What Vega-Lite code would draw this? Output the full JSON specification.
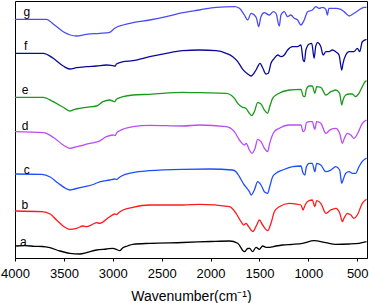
{
"$schema":"https://vega.github.io/schema/vega-lite/v6.json",
"width":352,"height":257,
"autosize":{"type":"none"},
"padding":{"left":15,"top":1,"right":2,"bottom":45},
"config":{"view":{"stroke":"#000","strokeWidth":1},"font":"Liberation Sans"},
"layer":[
{"data":{"values":[
{"s":"a","wn":4000,"v":12},{"s":"a","wn":3900,"v":12.3},{"s":"a","wn":3800,"v":11.7},{"s":"a","wn":3720,"v":11.5},{"s":"a","wn":3643,"v":10.3},{"s":"a","wn":3541,"v":7},{"s":"a","wn":3440,"v":4.7},{"s":"a","wn":3337,"v":4},{"s":"a","wn":3269,"v":5.3},{"s":"a","wn":3167,"v":8},{"s":"a","wn":3065,"v":9},{"s":"a","wn":2998,"v":9.7},{"s":"a","wn":2960,"v":8.5},{"s":"a","wn":2929,"v":7.3},{"s":"a","wn":2900,"v":10},{"s":"a","wn":2848,"v":12},{"s":"a","wn":2794,"v":13.7},{"s":"a","wn":2623,"v":14.7},{"s":"a","wn":2287,"v":15.5},{"s":"a","wn":2000,"v":16.5},{"s":"a","wn":1807,"v":17},{"s":"a","wn":1722,"v":14.7},{"s":"a","wn":1654,"v":6.3},{"s":"a","wn":1620,"v":9.5},{"s":"a","wn":1600,"v":9.7},{"s":"a","wn":1570,"v":6.3},{"s":"a","wn":1535,"v":10.7},{"s":"a","wn":1501,"v":8.7},{"s":"a","wn":1467,"v":12},{"s":"a","wn":1433,"v":10.7},{"s":"a","wn":1399,"v":10.7},{"s":"a","wn":1331,"v":12},{"s":"a","wn":1263,"v":13},{"s":"a","wn":1161,"v":13.7},{"s":"a","wn":1059,"v":14.7},{"s":"a","wn":941,"v":17.3},{"s":"a","wn":821,"v":15.3},{"s":"a","wn":719,"v":13.7},{"s":"a","wn":583,"v":14},{"s":"a","wn":482,"v":14.7},{"s":"a","wn":405,"v":16.3},
{"s":"b","wn":4000,"v":47},{"s":"b","wn":3725,"v":46.3},{"s":"b","wn":3640,"v":44},{"s":"b","wn":3575,"v":38},{"s":"b","wn":3490,"v":30.7},{"s":"b","wn":3440,"v":28.7},{"s":"b","wn":3371,"v":29.7},{"s":"b","wn":3303,"v":32},{"s":"b","wn":3270,"v":31.3},{"s":"b","wn":3200,"v":34},{"s":"b","wn":3167,"v":35.3},{"s":"b","wn":3133,"v":34.7},{"s":"b","wn":3031,"v":41.3},{"s":"b","wn":2980,"v":44},{"s":"b","wn":2960,"v":43.5},{"s":"b","wn":2946,"v":44.7},{"s":"b","wn":2895,"v":48},{"s":"b","wn":2794,"v":50.7},{"s":"b","wn":2623,"v":53},{"s":"b","wn":2283,"v":53},{"s":"b","wn":2113,"v":53.7},{"s":"b","wn":1807,"v":51.3},{"s":"b","wn":1739,"v":44.7},{"s":"b","wn":1688,"v":36.3},{"s":"b","wn":1660,"v":33},{"s":"b","wn":1637,"v":34.7},{"s":"b","wn":1610,"v":31.3},{"s":"b","wn":1569,"v":26.3},{"s":"b","wn":1528,"v":33},{"s":"b","wn":1501,"v":38},{"s":"b","wn":1467,"v":33},{"s":"b","wn":1416,"v":27.3},{"s":"b","wn":1382,"v":34.7},{"s":"b","wn":1348,"v":46.3},{"s":"b","wn":1297,"v":51.3},{"s":"b","wn":1195,"v":54.7},{"s":"b","wn":1076,"v":53},{"s":"b","wn":1053,"v":48},{"s":"b","wn":1040,"v":51.3},{"s":"b","wn":1000,"v":57},{"s":"b","wn":960,"v":58},{"s":"b","wn":933,"v":51.3},{"s":"b","wn":915,"v":57.3},{"s":"b","wn":872,"v":54.7},{"s":"b","wn":821,"v":44.7},{"s":"b","wn":770,"v":48},{"s":"b","wn":719,"v":49.7},{"s":"b","wn":678,"v":44.7},{"s":"b","wn":652,"v":36.3},{"s":"b","wn":635,"v":39.7},{"s":"b","wn":600,"v":44.7},{"s":"b","wn":565,"v":43},{"s":"b","wn":533,"v":39.7},{"s":"b","wn":499,"v":43},{"s":"b","wn":448,"v":54.7},{"s":"b","wn":405,"v":58.7},
{"s":"c","wn":4000,"v":84},{"s":"c","wn":3725,"v":83.7},{"s":"c","wn":3640,"v":81},{"s":"c","wn":3560,"v":75},{"s":"c","wn":3480,"v":69.5},{"s":"c","wn":3440,"v":68},{"s":"c","wn":3390,"v":69},{"s":"c","wn":3286,"v":71.3},{"s":"c","wn":3200,"v":73.5},{"s":"c","wn":3165,"v":75},{"s":"c","wn":3030,"v":78},{"s":"c","wn":2980,"v":79},{"s":"c","wn":2960,"v":78.5},{"s":"c","wn":2940,"v":80},{"s":"c","wn":2910,"v":82},{"s":"c","wn":2795,"v":85.3},{"s":"c","wn":2625,"v":87.3},{"s":"c","wn":2285,"v":88.7},{"s":"c","wn":2000,"v":89},{"s":"c","wn":1777,"v":88},{"s":"c","wn":1740,"v":86.3},{"s":"c","wn":1705,"v":81.3},{"s":"c","wn":1655,"v":73},{"s":"c","wn":1640,"v":71.3},{"s":"c","wn":1603,"v":66.3},{"s":"c","wn":1585,"v":63},{"s":"c","wn":1552,"v":68},{"s":"c","wn":1518,"v":76.3},{"s":"c","wn":1484,"v":73},{"s":"c","wn":1450,"v":66.3},{"s":"c","wn":1416,"v":64.7},{"s":"c","wn":1395,"v":71.3},{"s":"c","wn":1365,"v":81.3},{"s":"c","wn":1331,"v":84.7},{"s":"c","wn":1263,"v":88},{"s":"c","wn":1161,"v":91.3},{"s":"c","wn":1076,"v":92},{"s":"c","wn":1053,"v":84.7},{"s":"c","wn":1035,"v":83},{"s":"c","wn":1020,"v":91.3},{"s":"c","wn":991,"v":94.7},{"s":"c","wn":960,"v":94.7},{"s":"c","wn":933,"v":86.3},{"s":"c","wn":915,"v":94.7},{"s":"c","wn":872,"v":93},{"s":"c","wn":821,"v":86.3},{"s":"c","wn":770,"v":88},{"s":"c","wn":719,"v":91.3},{"s":"c","wn":680,"v":88},{"s":"c","wn":658,"v":74.7},{"s":"c","wn":645,"v":78},{"s":"c","wn":617,"v":84.7},{"s":"c","wn":583,"v":86.3},{"s":"c","wn":550,"v":84.7},{"s":"c","wn":516,"v":84.7},{"s":"c","wn":482,"v":91.3},{"s":"c","wn":450,"v":96.3},{"s":"c","wn":405,"v":100},
{"s":"d","wn":4000,"v":126.3},{"s":"d","wn":3711,"v":125.3},{"s":"d","wn":3609,"v":120.7},{"s":"d","wn":3507,"v":113},{"s":"d","wn":3440,"v":109.7},{"s":"d","wn":3400,"v":110.5},{"s":"d","wn":3337,"v":112},{"s":"d","wn":3235,"v":114.7},{"s":"d","wn":3150,"v":116.3},{"s":"d","wn":3065,"v":121.3},{"s":"d","wn":2998,"v":123},{"s":"d","wn":2975,"v":122.5},{"s":"d","wn":2963,"v":124.7},{"s":"d","wn":2929,"v":127.3},{"s":"d","wn":2794,"v":131.3},{"s":"d","wn":2623,"v":132.7},{"s":"d","wn":2283,"v":132},{"s":"d","wn":2113,"v":133},{"s":"d","wn":1841,"v":131.3},{"s":"d","wn":1756,"v":126.3},{"s":"d","wn":1705,"v":118},{"s":"d","wn":1654,"v":113},{"s":"d","wn":1635,"v":114.7},{"s":"d","wn":1603,"v":108},{"s":"d","wn":1576,"v":104.7},{"s":"d","wn":1545,"v":109.7},{"s":"d","wn":1518,"v":118.7},{"s":"d","wn":1484,"v":116.3},{"s":"d","wn":1450,"v":109.7},{"s":"d","wn":1416,"v":106.3},{"s":"d","wn":1395,"v":114.7},{"s":"d","wn":1348,"v":126.3},{"s":"d","wn":1297,"v":129.7},{"s":"d","wn":1195,"v":133},{"s":"d","wn":1076,"v":133},{"s":"d","wn":1053,"v":126.3},{"s":"d","wn":1035,"v":128},{"s":"d","wn":1020,"v":135.3},{"s":"d","wn":991,"v":136.3},{"s":"d","wn":960,"v":136.3},{"s":"d","wn":933,"v":128.7},{"s":"d","wn":915,"v":136.3},{"s":"d","wn":872,"v":134.7},{"s":"d","wn":821,"v":124.7},{"s":"d","wn":770,"v":128.7},{"s":"d","wn":719,"v":129.7},{"s":"d","wn":680,"v":124.7},{"s":"d","wn":652,"v":114.7},{"s":"d","wn":635,"v":118.7},{"s":"d","wn":600,"v":124.7},{"s":"d","wn":565,"v":123},{"s":"d","wn":533,"v":119.7},{"s":"d","wn":499,"v":124},{"s":"d","wn":448,"v":134.7},{"s":"d","wn":405,"v":138},
{"s":"e","wn":4000,"v":160.7},{"s":"e","wn":3711,"v":160.7},{"s":"e","wn":3609,"v":156.3},{"s":"e","wn":3507,"v":150.7},{"s":"e","wn":3440,"v":147},{"s":"e","wn":3390,"v":148.7},{"s":"e","wn":3337,"v":149.7},{"s":"e","wn":3270,"v":150.7},{"s":"e","wn":3167,"v":152},{"s":"e","wn":3100,"v":156.3},{"s":"e","wn":3031,"v":158},{"s":"e","wn":2980,"v":156.3},{"s":"e","wn":2963,"v":158.7},{"s":"e","wn":2895,"v":161.3},{"s":"e","wn":2794,"v":163},{"s":"e","wn":2623,"v":163.7},{"s":"e","wn":2283,"v":165.7},{"s":"e","wn":2113,"v":165.3},{"s":"e","wn":1841,"v":164.7},{"s":"e","wn":1756,"v":159.7},{"s":"e","wn":1722,"v":154.7},{"s":"e","wn":1671,"v":150.7},{"s":"e","wn":1640,"v":149.7},{"s":"e","wn":1603,"v":144.7},{"s":"e","wn":1580,"v":142.3},{"s":"e","wn":1552,"v":146.3},{"s":"e","wn":1518,"v":155.3},{"s":"e","wn":1484,"v":154},{"s":"e","wn":1450,"v":148},{"s":"e","wn":1416,"v":144.7},{"s":"e","wn":1395,"v":151.3},{"s":"e","wn":1365,"v":159.7},{"s":"e","wn":1314,"v":164},{"s":"e","wn":1195,"v":168},{"s":"e","wn":1076,"v":168.7},{"s":"e","wn":1053,"v":162},{"s":"e","wn":1035,"v":161.3},{"s":"e","wn":1020,"v":168.7},{"s":"e","wn":991,"v":172},{"s":"e","wn":960,"v":172},{"s":"e","wn":933,"v":164.7},{"s":"e","wn":915,"v":171.3},{"s":"e","wn":872,"v":170.7},{"s":"e","wn":821,"v":163},{"s":"e","wn":770,"v":166.3},{"s":"e","wn":719,"v":168},{"s":"e","wn":680,"v":164.7},{"s":"e","wn":658,"v":153},{"s":"e","wn":645,"v":158},{"s":"e","wn":617,"v":163},{"s":"e","wn":583,"v":164},{"s":"e","wn":550,"v":164},{"s":"e","wn":516,"v":161.3},{"s":"e","wn":482,"v":164.7},{"s":"e","wn":448,"v":171.3},{"s":"e","wn":420,"v":176.3},{"s":"e","wn":405,"v":177},
{"s":"f","wn":4000,"v":204.7},{"s":"f","wn":3711,"v":204.7},{"s":"f","wn":3609,"v":199.7},{"s":"f","wn":3507,"v":192},{"s":"f","wn":3440,"v":189},{"s":"f","wn":3371,"v":190.3},{"s":"f","wn":3270,"v":191.3},{"s":"f","wn":3167,"v":192},{"s":"f","wn":3065,"v":193},{"s":"f","wn":2998,"v":192.3},{"s":"f","wn":2975,"v":192},{"s":"f","wn":2963,"v":194},{"s":"f","wn":2895,"v":196.3},{"s":"f","wn":2794,"v":197.3},{"s":"f","wn":2623,"v":201.3},{"s":"f","wn":2453,"v":204.7},{"s":"f","wn":2283,"v":207.3},{"s":"f","wn":2113,"v":208},{"s":"f","wn":1943,"v":207.3},{"s":"f","wn":1841,"v":204.7},{"s":"f","wn":1773,"v":201.3},{"s":"f","wn":1722,"v":196.3},{"s":"f","wn":1671,"v":188.7},{"s":"f","wn":1620,"v":184},{"s":"f","wn":1586,"v":182},{"s":"f","wn":1535,"v":188},{"s":"f","wn":1494,"v":194.7},{"s":"f","wn":1465,"v":189.7},{"s":"f","wn":1433,"v":184},{"s":"f","wn":1410,"v":184.7},{"s":"f","wn":1382,"v":194.7},{"s":"f","wn":1348,"v":199.7},{"s":"f","wn":1314,"v":203},{"s":"f","wn":1280,"v":201.3},{"s":"f","wn":1246,"v":203},{"s":"f","wn":1212,"v":208},{"s":"f","wn":1161,"v":211.3},{"s":"f","wn":1110,"v":211.3},{"s":"f","wn":1076,"v":213},{"s":"f","wn":1053,"v":198},{"s":"f","wn":1040,"v":196.3},{"s":"f","wn":1025,"v":208},{"s":"f","wn":991,"v":214},{"s":"f","wn":965,"v":214.7},{"s":"f","wn":941,"v":199.7},{"s":"f","wn":925,"v":211.3},{"s":"f","wn":906,"v":215.3},{"s":"f","wn":872,"v":211.3},{"s":"f","wn":849,"v":203},{"s":"f","wn":820,"v":206.3},{"s":"f","wn":788,"v":206.3},{"s":"f","wn":754,"v":208},{"s":"f","wn":720,"v":206.3},{"s":"f","wn":686,"v":203},{"s":"f","wn":658,"v":188},{"s":"f","wn":645,"v":194.7},{"s":"f","wn":617,"v":203},{"s":"f","wn":583,"v":206.3},{"s":"f","wn":533,"v":206.3},{"s":"f","wn":499,"v":209.7},{"s":"f","wn":475,"v":206.3},{"s":"f","wn":448,"v":216.3},{"s":"f","wn":405,"v":218.7},
{"s":"g","wn":4000,"v":238.7},{"s":"g","wn":3677,"v":238.7},{"s":"g","wn":3609,"v":234},{"s":"g","wn":3507,"v":226.3},{"s":"g","wn":3371,"v":222},{"s":"g","wn":3270,"v":223.7},{"s":"g","wn":3133,"v":224.7},{"s":"g","wn":3031,"v":225.7},{"s":"g","wn":2980,"v":229.7},{"s":"g","wn":2895,"v":233},{"s":"g","wn":2794,"v":235.3},{"s":"g","wn":2623,"v":238},{"s":"g","wn":2453,"v":241.3},{"s":"g","wn":2283,"v":245.3},{"s":"g","wn":2113,"v":248},{"s":"g","wn":1943,"v":250.7},{"s":"g","wn":1756,"v":251.3},{"s":"g","wn":1705,"v":249.7},{"s":"g","wn":1654,"v":243},{"s":"g","wn":1620,"v":238},{"s":"g","wn":1586,"v":244.7},{"s":"g","wn":1552,"v":243},{"s":"g","wn":1530,"v":239.7},{"s":"g","wn":1508,"v":231.3},{"s":"g","wn":1485,"v":241.3},{"s":"g","wn":1450,"v":245.3},{"s":"g","wn":1399,"v":243},{"s":"g","wn":1358,"v":246.3},{"s":"g","wn":1331,"v":244.7},{"s":"g","wn":1297,"v":232},{"s":"g","wn":1280,"v":243},{"s":"g","wn":1246,"v":246.3},{"s":"g","wn":1212,"v":241.3},{"s":"g","wn":1178,"v":243},{"s":"g","wn":1144,"v":239.7},{"s":"g","wn":1110,"v":238},{"s":"g","wn":1076,"v":233},{"s":"g","wn":1042,"v":238},{"s":"g","wn":1008,"v":246.3},{"s":"g","wn":958,"v":248},{"s":"g","wn":923,"v":251.3},{"s":"g","wn":890,"v":249.7},{"s":"g","wn":855,"v":250.7},{"s":"g","wn":821,"v":248.7},{"s":"g","wn":805,"v":243},{"s":"g","wn":790,"v":249.7},{"s":"g","wn":719,"v":249.7},{"s":"g","wn":668,"v":248.7},{"s":"g","wn":617,"v":244.7},{"s":"g","wn":583,"v":242},{"s":"g","wn":533,"v":244.7},{"s":"g","wn":482,"v":248},{"s":"g","wn":430,"v":250.7},{"s":"g","wn":405,"v":250.7}
]},
"mark":{"type":"line","strokeWidth":1.3,"clip":true,"interpolate":"monotone"},
"encoding":{
"x":{"field":"wn","type":"quantitative","scale":{"domain":[400,4000],"reverse":true,"nice":false,"zero":false},
"axis":{"title":"Wavenumber(cm⁻¹)","values":[4000,3750,3500,3250,3000,2750,2500,2250,2000,1750,1500,1250,1000,750,500],
"labelExpr":"datum.value % 500 === 0 ? datum.label : ''","format":"d","labelOverlap":false,"labelFlush":false,
"grid":false,"domainColor":"#000","tickColor":"#000","tickSize":3,"labelPadding":6,"labelFontSize":13,"labelColor":"#000",
"titleFontSize":14,"titleFontWeight":"normal","titleColor":"#000","titlePadding":9}},
"y":{"field":"v","type":"quantitative","scale":{"domain":[0,257],"nice":false,"zero":false},"axis":null},
"color":{"field":"s","type":"nominal","legend":null,"scale":{"domain":["a","b","c","d","e","f","g"],"range":["#000000","#ff1a1a","#1e4dff","#b94cf5","#1a9a1a","#0a0a9a","#4b4bf5"]}}
}},
{"data":{"values":[
{"lab":"a","wn":3915,"v":12.5},{"lab":"b","wn":3900,"v":49},{"lab":"c","wn":3880,"v":84.5},{"lab":"d","wn":3898,"v":128},{"lab":"e","wn":3898,"v":164},{"lab":"f","wn":3890,"v":208},{"lab":"g","wn":3880,"v":242.5}
]},
"mark":{"type":"text","fontSize":12,"color":"#000","baseline":"alphabetic","align":"center"},
"encoding":{
"x":{"field":"wn","type":"quantitative"},
"y":{"field":"v","type":"quantitative"},
"text":{"field":"lab"}
}}
]
}
